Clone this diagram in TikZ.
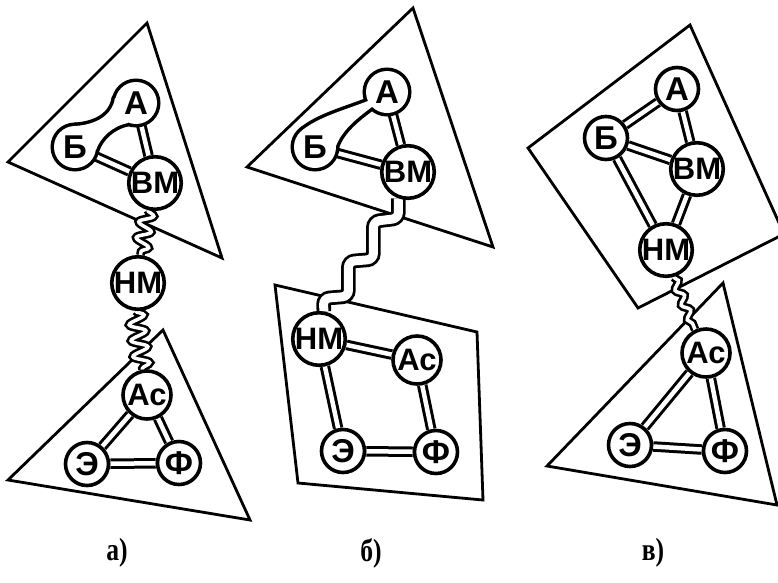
\documentclass[tikz,border=0pt]{standalone}
\usepackage{fontspec}
\setmainfont{Liberation Sans}
\newfontfamily\labfont{Liberation Serif}
\usepackage{graphicx}
\usetikzlibrary{decorations.pathmorphing}
\pgfdeclarelayer{frames}
\pgfdeclarelayer{links}
\pgfdeclarelayer{blobs}
\pgfsetlayers{frames,links,blobs,main}
\tikzset{
  frame/.style={draw, line width=2.8pt, line join=miter},
  atom/.style={circle, draw, fill=white, line width=3.6pt, inner sep=0pt, minimum size=43pt, font=\fontsize{33}{33}\selectfont\bfseries},
  blobatom/.style={circle, inner sep=0pt, minimum size=44pt, font=\fontsize{33}{33}\selectfont\bfseries},
  wide/.style={minimum size=51pt},
  mid/.style={minimum size=48pt},
  twolet/.style={font=\fontsize{31}{31}\selectfont\bfseries},
  bond/.style={line width=3pt, double=white, double distance=4.5pt},
  wave/.style={line width=2.6pt, double=white, double distance=3.5pt, decorate, decoration={snake, amplitude=#1, segment length=16pt}},
  ribbon/.style={line width=2.8pt, double=white, double distance=9pt, rounded corners=6pt},
  blobline/.style={line width=7pt},
  panel/.style={font=\labfont\bfseries\fontsize{32}{32}\selectfont},
}
\begin{document}
\begin{tikzpicture}[x=1pt,y=-1pt]
\useasboundingbox (0,0) rectangle (778,582);

% ---------- panel a ----------
\node[blobatom] (aA) at (136,103) {А};
\node[blobatom] (bA) at (75,147) {Б};
\node[atom,wide,twolet] (vmA) at (155,183) {ВМ};
\node[atom,wide,twolet] (nmA) at (138,283) {НМ};
\node[atom,mid,twolet] (acA) at (147,395) {Ас};
\node[atom] (eA) at (87,464) {Э};
\node[atom] (fA) at (179,463) {Ф};

% ---------- panel b ----------
\node[blobatom] (aB) at (387,92) {А};
\node[blobatom] (bB) at (315,147) {Б};
\node[atom,wide,twolet] (vmB) at (408,172) {ВМ};
\node[atom,wide,twolet] (nmB) at (319,339) {НМ};
\node[atom,mid,twolet] (acB) at (417,360) {Ас};
\node[atom] (eB) at (343,451) {Э};
\node[atom] (fB) at (436,452) {Ф};

% ---------- panel c ----------
\node[atom] (aC) at (677,89) {А};
\node[atom] (bC) at (606,138) {Б};
\node[atom,wide,twolet] (vmC) at (697,169) {ВМ};
\node[atom,wide,twolet] (nmC) at (666,250) {НМ};
\node[atom,mid,twolet] (acC) at (706,353) {Ас};
\node[atom] (eC) at (630,445) {Э};
\node[atom] (fC) at (725,451) {Ф};

% ---------- labels ----------
\node[panel] (la) at (117,553) {\scalebox{0.8}[1]{а)}};
\node[panel] (lb) at (371,553) {\scalebox{0.8}[1]{б)}};
\node[panel] (lc) at (653,553) {\scalebox{0.8}[1]{в)}};

% ---------- frames ----------
\begin{pgfonlayer}{frames}
  \begin{scope}
    \clip (0,0) rectangle (778,582);
    \draw[frame] (147,23) -- (8,162) -- (222,258) -- cycle;
    \draw[frame] (163,330) -- (8,480) -- (250,520) -- cycle;
    \draw[frame] (413,8) -- (247,167) -- (493,247) -- cycle;
    \draw[frame] (275,285) -- (477,332) -- (483,500) -- (298,483) -- cycle;
    \draw[frame] (690,25) -- (528,148) -- (638,308) -- (784,234) -- cycle;
    \draw[frame] (723,283) -- (547,466) -- (777,505) -- cycle;
  \end{scope}
\end{pgfonlayer}

% ---------- links ----------
\begin{pgfonlayer}{links}
  % panel a
  \draw[bond] (aA) -- (vmA);
  \draw[bond] (bA) -- (vmA);
  \draw[bond] (acA) -- (eA);
  \draw[bond] (acA) -- (fA);
  \draw[bond] (eA) -- (fA);
  \draw[wave=7pt] (vmA.-105) -- (nmA.85);
  \draw[wave=8pt] (nmA.-95) -- (acA.100);
  % panel b
  \draw[bond] (aB) -- (vmB);
  \draw[bond] (bB) -- (vmB);
  \draw[bond] (nmB) -- (acB);
  \draw[bond] (nmB) -- (eB);
  \draw[bond] (acB) -- (fB);
  \draw[bond] (eB) -- (fB);
  \draw[ribbon] (vmB.-110) -- ++(0,20) -- ++(-25,3) -- ++(0,38) -- ++(-25,2) -- ++(0,35) -- ++(-25,2) -- (nmB.80);
  % panel c
  \draw[bond] (aC) -- (bC);
  \draw[bond] (aC) -- (vmC);
  \draw[bond] (bC) -- (vmC);
  \draw[bond] (bC) -- (nmC);
  \draw[bond] (vmC) -- (nmC);
  \draw[bond] (acC) -- (eC);
  \draw[bond] (acC) -- (fC);
  \draw[bond] (eC) -- (fC);
  \draw[wave=3.5pt] (nmC.-75) -- (acC.115);
\end{pgfonlayer}

% ---------- blobs (A+Б joined) ----------
\begin{pgfonlayer}{blobs}
  \draw[blobline] (aA.center) circle[radius=21pt] (bA.center) circle[radius=21pt];
  \draw[blobline, line join=round] (75,126) .. controls (92,125) and (112,118) .. (115,98) -- (aA.center) -- (128,123) .. controls (112,126) and (100,138) .. (96,150) -- (bA.center) -- cycle;
  \fill[white] (aA.center) circle[radius=21pt] (bA.center) circle[radius=21pt];
  \fill[white] (75,126) .. controls (92,125) and (112,118) .. (115,98) -- (aA.center) -- (128,123) .. controls (112,126) and (100,138) .. (96,150) -- (bA.center) -- cycle;

  \draw[blobline] (aB.center) circle[radius=21pt] (bB.center) circle[radius=21pt];
  \draw[blobline, line join=round] (301.5,131) .. controls (318,117) and (345,110) .. (368,101) -- (aB.center) -- (372,107) .. controls (357,118) and (342,130) .. (336,146) -- (bB.center) -- cycle;
  \fill[white] (aB.center) circle[radius=21pt] (bB.center) circle[radius=21pt];
  \fill[white] (301.5,131) .. controls (318,117) and (345,110) .. (368,101) -- (aB.center) -- (372,107) .. controls (357,118) and (342,130) .. (336,146) -- (bB.center) -- cycle;
\end{pgfonlayer}
\end{tikzpicture}
\end{document}
